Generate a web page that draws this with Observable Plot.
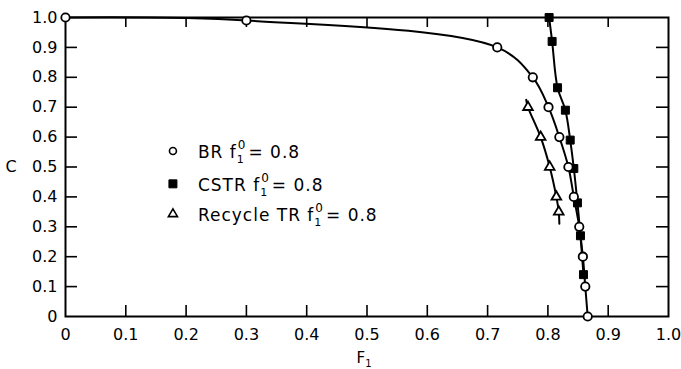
<!DOCTYPE html>
<html>
<head>
<meta charset="utf-8">
<script src="https://cdn.jsdelivr.net/npm/d3@7"></script>
<script src="https://cdn.jsdelivr.net/npm/@observablehq/plot@0.6"></script>
<style>
  html, body { margin: 0; padding: 0; background: #fff; }
  #chart { width: 681px; height: 369px; }
</style>
</head>
<body>
<div id="chart"></div>
<script>
// ---- data ----
const xTicks = [0, 0.1, 0.2, 0.3, 0.4, 0.5, 0.6, 0.7, 0.8, 0.9, 1.0];
const xTickLabels = ["0", "0.1", "0.2", "0.3", "0.4", "0.5", "0.6", "0.7", "0.8", "0.9", "1.0"];
const yTicks = [0, 0.1, 0.2, 0.3, 0.4, 0.5, 0.6, 0.7, 0.8, 0.9, 1.0];
const yTickLabels = ["0", "0.1", "0.2", "0.3", "0.4", "0.5", "0.6", "0.7", "0.8", "0.9", "1.0"];

// BR f1^0 = 0.8 (open circles)
const brF = [0, 0.3, 0.716, 0.775, 0.801, 0.819, 0.834, 0.843, 0.852, 0.858, 0.862, 0.866];
const brC = [1.0, 0.99, 0.90, 0.80, 0.70, 0.60, 0.50, 0.40, 0.30, 0.20, 0.10, 0.0];

// CSTR f1^0 = 0.8 (filled squares)
const cstrF = [0.802, 0.807, 0.816, 0.829, 0.837, 0.843, 0.849, 0.854, 0.859];
const cstrC = [1.0, 0.92, 0.765, 0.69, 0.59, 0.495, 0.38, 0.27, 0.14];

// Recycle TR f1^0 = 0.8 (open triangles)
const recF = [0.767, 0.788, 0.803, 0.814, 0.818];
const recC = [0.70, 0.60, 0.50, 0.40, 0.35];
// drawn curve of the recycle series extends slightly beyond its markers
const recCurveF = [0.764, 0.767, 0.788, 0.803, 0.814, 0.818, 0.819];
const recCurveC = [0.725, 0.70, 0.60, 0.50, 0.40, 0.35, 0.31];

const seriesNames = ["BR", "CSTR", "Recycle TR"];
const legendValue = "0.8";
const xLabel = "F";
const yLabel = "C";

// ---- build tables ----
const zip = (fs, cs) => fs.map((f, i) => ({F: f, C: cs[i]}));
const br = zip(brF, brC);
const cstr = zip(cstrF, cstrC);
const rec = zip(recF, recC);
const recCurve = zip(recCurveF, recCurveC);
const fmtX = new Map(xTicks.map((t, i) => [t, xTickLabels[i]]));
const fmtY = new Map(yTicks.map((t, i) => [t, yTickLabels[i]]));
const innerTicksX = xTicks.slice(1, -1);
const innerTicksY = yTicks.slice(1, -1);

const FONT = "'DejaVu Sans', sans-serif";

const plot = Plot.plot({
  width: 681,
  height: 369,
  marginLeft: 65,
  marginRight: 13,
  marginTop: 17,
  marginBottom: 53,
  style: {fontFamily: FONT, fontSize: "16px", color: "black", background: "white"},
  x: {domain: [0, 1]},
  y: {domain: [0, 1]},
  marks: [
    // tick marks pointing inwards on all four sides
    Plot.tickX(innerTicksX, {insetTop: 288, stroke: "black", strokeWidth: 1.6}),
    Plot.tickX(innerTicksX, {insetBottom: 289, stroke: "black", strokeWidth: 1.6}),
    Plot.tickY(innerTicksY, {insetRight: 591, stroke: "black", strokeWidth: 1.6}),
    Plot.tickY(innerTicksY, {insetLeft: 591, stroke: "black", strokeWidth: 1.6}),
    Plot.axisX({ticks: xTicks, tickSize: 0, tickPadding: 12, tickFormat: d => fmtX.get(d), label: null, fontSize: 16}),
    Plot.axisY({ticks: yTicks, tickSize: 0, tickPadding: 8, tickFormat: d => fmtY.get(d), label: null, fontSize: 16}),
    Plot.frame({stroke: "black", strokeWidth: 2}),
    // curves
    Plot.line(br, {x: "F", y: "C", curve: "catmull-rom", stroke: "black", strokeWidth: 2}),
    Plot.line(cstr, {x: "F", y: "C", curve: "catmull-rom", stroke: "black", strokeWidth: 2}),
    Plot.line(recCurve, {x: "F", y: "C", curve: "catmull-rom", stroke: "black", strokeWidth: 2}),
    // markers
    Plot.dot(rec, {x: "F", y: "C", symbol: "triangle", r: 3.6, fill: "white", stroke: "black", strokeWidth: 1.8}),
    Plot.dot(cstr, {x: "F", y: "C", symbol: "square", r: 4.5, fill: "black", stroke: "black", strokeWidth: 1}),
    Plot.dot(br, {x: "F", y: "C", symbol: "circle", r: 4.2, fill: "white", stroke: "black", strokeWidth: 1.8})
  ]
});

document.getElementById("chart").appendChild(plot);

// ---- legend and axis titles (rich text with sub/superscripts) ----
const svg = d3.select(plot);
const sx = plot.scale("x").apply;
const sy = plot.scale("y").apply;

const lx = sx(0.179);      // marker column
const tx = lx + 25;        // text column
const rows = [sy(0.552), sy(0.442), sy(0.341)];
const symbols = [d3.symbolCircle, d3.symbolSquare, d3.symbolTriangle];
const legendStyle = [
  {fill: "white", stroke: "black", sw: 1.6, size: 38},
  {fill: "black", stroke: "black", sw: 1, size: 64},
  {fill: "white", stroke: "black", sw: 1.6, size: 36}
];
const g = svg.append("g").attr("font-family", FONT).attr("fill", "black").attr("text-anchor", "start");
seriesNames.forEach((name, i) => {
  const y = rows[i];
  const st = legendStyle[i];
  g.append("path")
    .attr("d", d3.symbol(symbols[i], st.size)())
    .attr("transform", `translate(${lx},${y})`)
    .attr("fill", st.fill).attr("stroke", st.stroke).attr("stroke-width", st.sw);
  const t = g.append("text")
    .attr("x", tx).attr("y", y + 7)
    .attr("text-anchor", "start")
    .attr("font-size", 17)
    .attr("letter-spacing", 1);
  t.append("tspan").text(name + " f");
  t.append("tspan").attr("font-size", 11).attr("dy", 5).text("1");
  t.append("tspan").attr("font-size", 12).attr("dx", -7).attr("dy", -14).text("0");
  t.append("tspan").attr("dy", 9).attr("dx", 2).text("= " + legendValue);
});

// y axis title
svg.append("text")
  .attr("x", 11).attr("y", sy(0.5)).attr("dy", "0.35em")
  .attr("text-anchor", "middle")
  .attr("font-family", FONT).attr("font-size", 16)
  .text(yLabel);

// x axis title F with subscript 1
const xt = svg.append("text")
  .attr("x", sx(0.5) - 10).attr("y", 363)
  .attr("text-anchor", "start")
  .attr("font-family", FONT).attr("font-size", 15);
xt.append("tspan").text(xLabel);
xt.append("tspan").attr("font-size", 10).attr("dy", 4).text("1");
</script>
</body>
</html>
